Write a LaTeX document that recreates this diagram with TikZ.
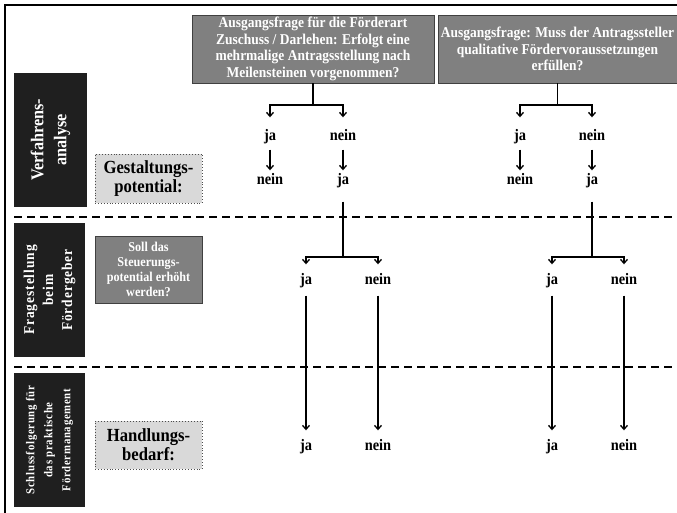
\documentclass[tikz,border=0pt]{standalone}
\usepackage{fontspec}
\setmainfont{Liberation Serif}[FakeStretch=0.9]
\usetikzlibrary{arrows.meta}
\begin{document}
\begin{tikzpicture}[x=1pt,y=-1pt,
    frage/.style={draw=black!75,line width=0.8pt,fill=black!50,text=white,align=center,
      font=\bfseries\fontsize{15}{16.5}\selectfont,minimum height=68pt,inner sep=1pt},
    balken/.style={fill=black!88,text=white,align=center,rotate=90,inner sep=0pt,
      minimum width=134pt},
    hinweis/.style={draw=black!70,dotted,line width=0.9pt,fill=black!15,align=center,
      font=\bfseries\fontsize{18.5}{19}\selectfont,minimum width=107pt,inner sep=0pt},
    antwort/.style={font=\bfseries\fontsize{16}{18}\selectfont,inner sep=0pt,
      text height=10pt,text depth=3pt},
    linie/.style={line width=1.3pt},
    pfeil/.style={linie,-{Straight Barb[length=4pt,width=7pt]}},
    trenner/.style={line width=1.5pt,dash pattern=on 8pt off 5pt}]
  \useasboundingbox (0,0) rectangle (677,513);
  % frame
  \draw[line width=1.5pt] (5,513) -- (5,5) -- (677,5);

  % left column
  \node[balken,minimum height=73pt,font=\bfseries\fontsize{18}{23}\selectfont] (verfahren) at (50.5,140) {Verfahrens-\\analyse};
  \node[balken,minimum height=71pt,font=\bfseries\fontsize{15}{19}\selectfont\addfontfeature{LetterSpace=6}] (fragest) at (49.5,290) {Fragestellung\\beim\\Fördergeber};
  \node[balken,minimum height=71pt,font=\bfseries\fontsize{12}{18}\selectfont\addfontfeature{LetterSpace=6}] (schluss) at (49.5,440) {Schlussfolgerung für\\das praktische\\Fördermanagement};

  \node[hinweis,minimum height=49pt] (gestalt) at (148.5,178.5) {Gestaltungs-\\potential:};
  \node[frage,minimum width=107pt,minimum height=67pt,font=\bfseries\fontsize{13.5}{15}\selectfont] (soll) at (148.5,269.5) {Soll das\\Steuerungs-\\potential erhöht\\werden?};
  \node[hinweis,minimum height=48pt] (handlung) at (148.5,445) {Handlungs-\\bedarf:};

  % separators
  \draw[trenner] (14,217) -- (677,217);
  \draw[trenner] (14,367) -- (677,367);

  % start questions
  \node[frage,minimum width=242pt] (foerderart) at (313,49) {Ausgangsfrage für die Förderart\\Zuschuss / Darlehen: Erfolgt eine\\mehrmalige Antragsstellung nach\\Meilensteinen vorgenommen?};
  \node[frage,minimum width=239pt] (qualitativ) at (557.5,49) {Ausgangsfrage: Muss der Antragssteller\\qualitative Fördervoraussetzungen\\erfüllen?};

  % answers, left tree
  \node[antwort] (lja) at (270,137) {ja};
  \node[antwort] (lnein) at (343,137) {nein};
  \node[antwort] (lnein2) at (270,181) {nein};
  \node[antwort] (lja2) at (343,181) {ja};
  \node[antwort] (lsja) at (306,281) {ja};
  \node[antwort] (lsnein) at (378,281) {nein};
  \node[antwort] (lhja) at (306,447) {ja};
  \node[antwort] (lhnein) at (378,447) {nein};

  % answers, right tree
  \node[antwort] (rja) at (520,137) {ja};
  \node[antwort] (rnein) at (592,137) {nein};
  \node[antwort] (rnein2) at (520,181) {nein};
  \node[antwort] (rja2) at (592,181) {ja};
  \node[antwort] (rsja) at (552,281) {ja};
  \node[antwort] (rsnein) at (624,281) {nein};
  \node[antwort] (rhja) at (552,447) {ja};
  \node[antwort] (rhnein) at (624,447) {nein};

  \coordinate (lk1) at (313,105);
  \coordinate (rk1) at (557.5,105);
  \coordinate (lk2) at (343,257);
  \coordinate (rk2) at (592,257);

  % left tree
  \draw[linie] (foerderart) -- (lk1);
  \draw[pfeil,shorten >=13pt] (lk1) -| (lja);
  \draw[pfeil,shorten >=13pt] (lk1) -| (lnein);
  \draw[pfeil,shorten <=6pt,shorten >=4pt] (lja) -- (lnein2);
  \draw[pfeil,shorten <=6pt,shorten >=4pt] (lnein) -- (lja2);
  \draw[linie,shorten <=14pt] (lja2) -- (lk2);
  \draw[pfeil,shorten >=10pt] (lk2) -| (lsja);
  \draw[pfeil,shorten >=10pt] (lk2) -| (lsnein);
  \draw[pfeil,shorten <=8pt,shorten >=10pt] (lsja) -- (lhja);
  \draw[pfeil,shorten <=8pt,shorten >=10pt] (lsnein) -- (lhnein);

  % right tree
  \draw[linie] (qualitativ) -- (rk1);
  \draw[pfeil,shorten >=13pt] (rk1) -| (rja);
  \draw[pfeil,shorten >=13pt] (rk1) -| (rnein);
  \draw[pfeil,shorten <=6pt,shorten >=4pt] (rja) -- (rnein2);
  \draw[pfeil,shorten <=6pt,shorten >=4pt] (rnein) -- (rja2);
  \draw[linie,shorten <=14pt] (rja2) -- (rk2);
  \draw[pfeil,shorten >=10pt] (rk2) -| (rsja);
  \draw[pfeil,shorten >=10pt] (rk2) -| (rsnein);
  \draw[pfeil,shorten <=8pt,shorten >=10pt] (rsja) -- (rhja);
  \draw[pfeil,shorten <=8pt,shorten >=10pt] (rsnein) -- (rhnein);
\end{tikzpicture}
\end{document}
